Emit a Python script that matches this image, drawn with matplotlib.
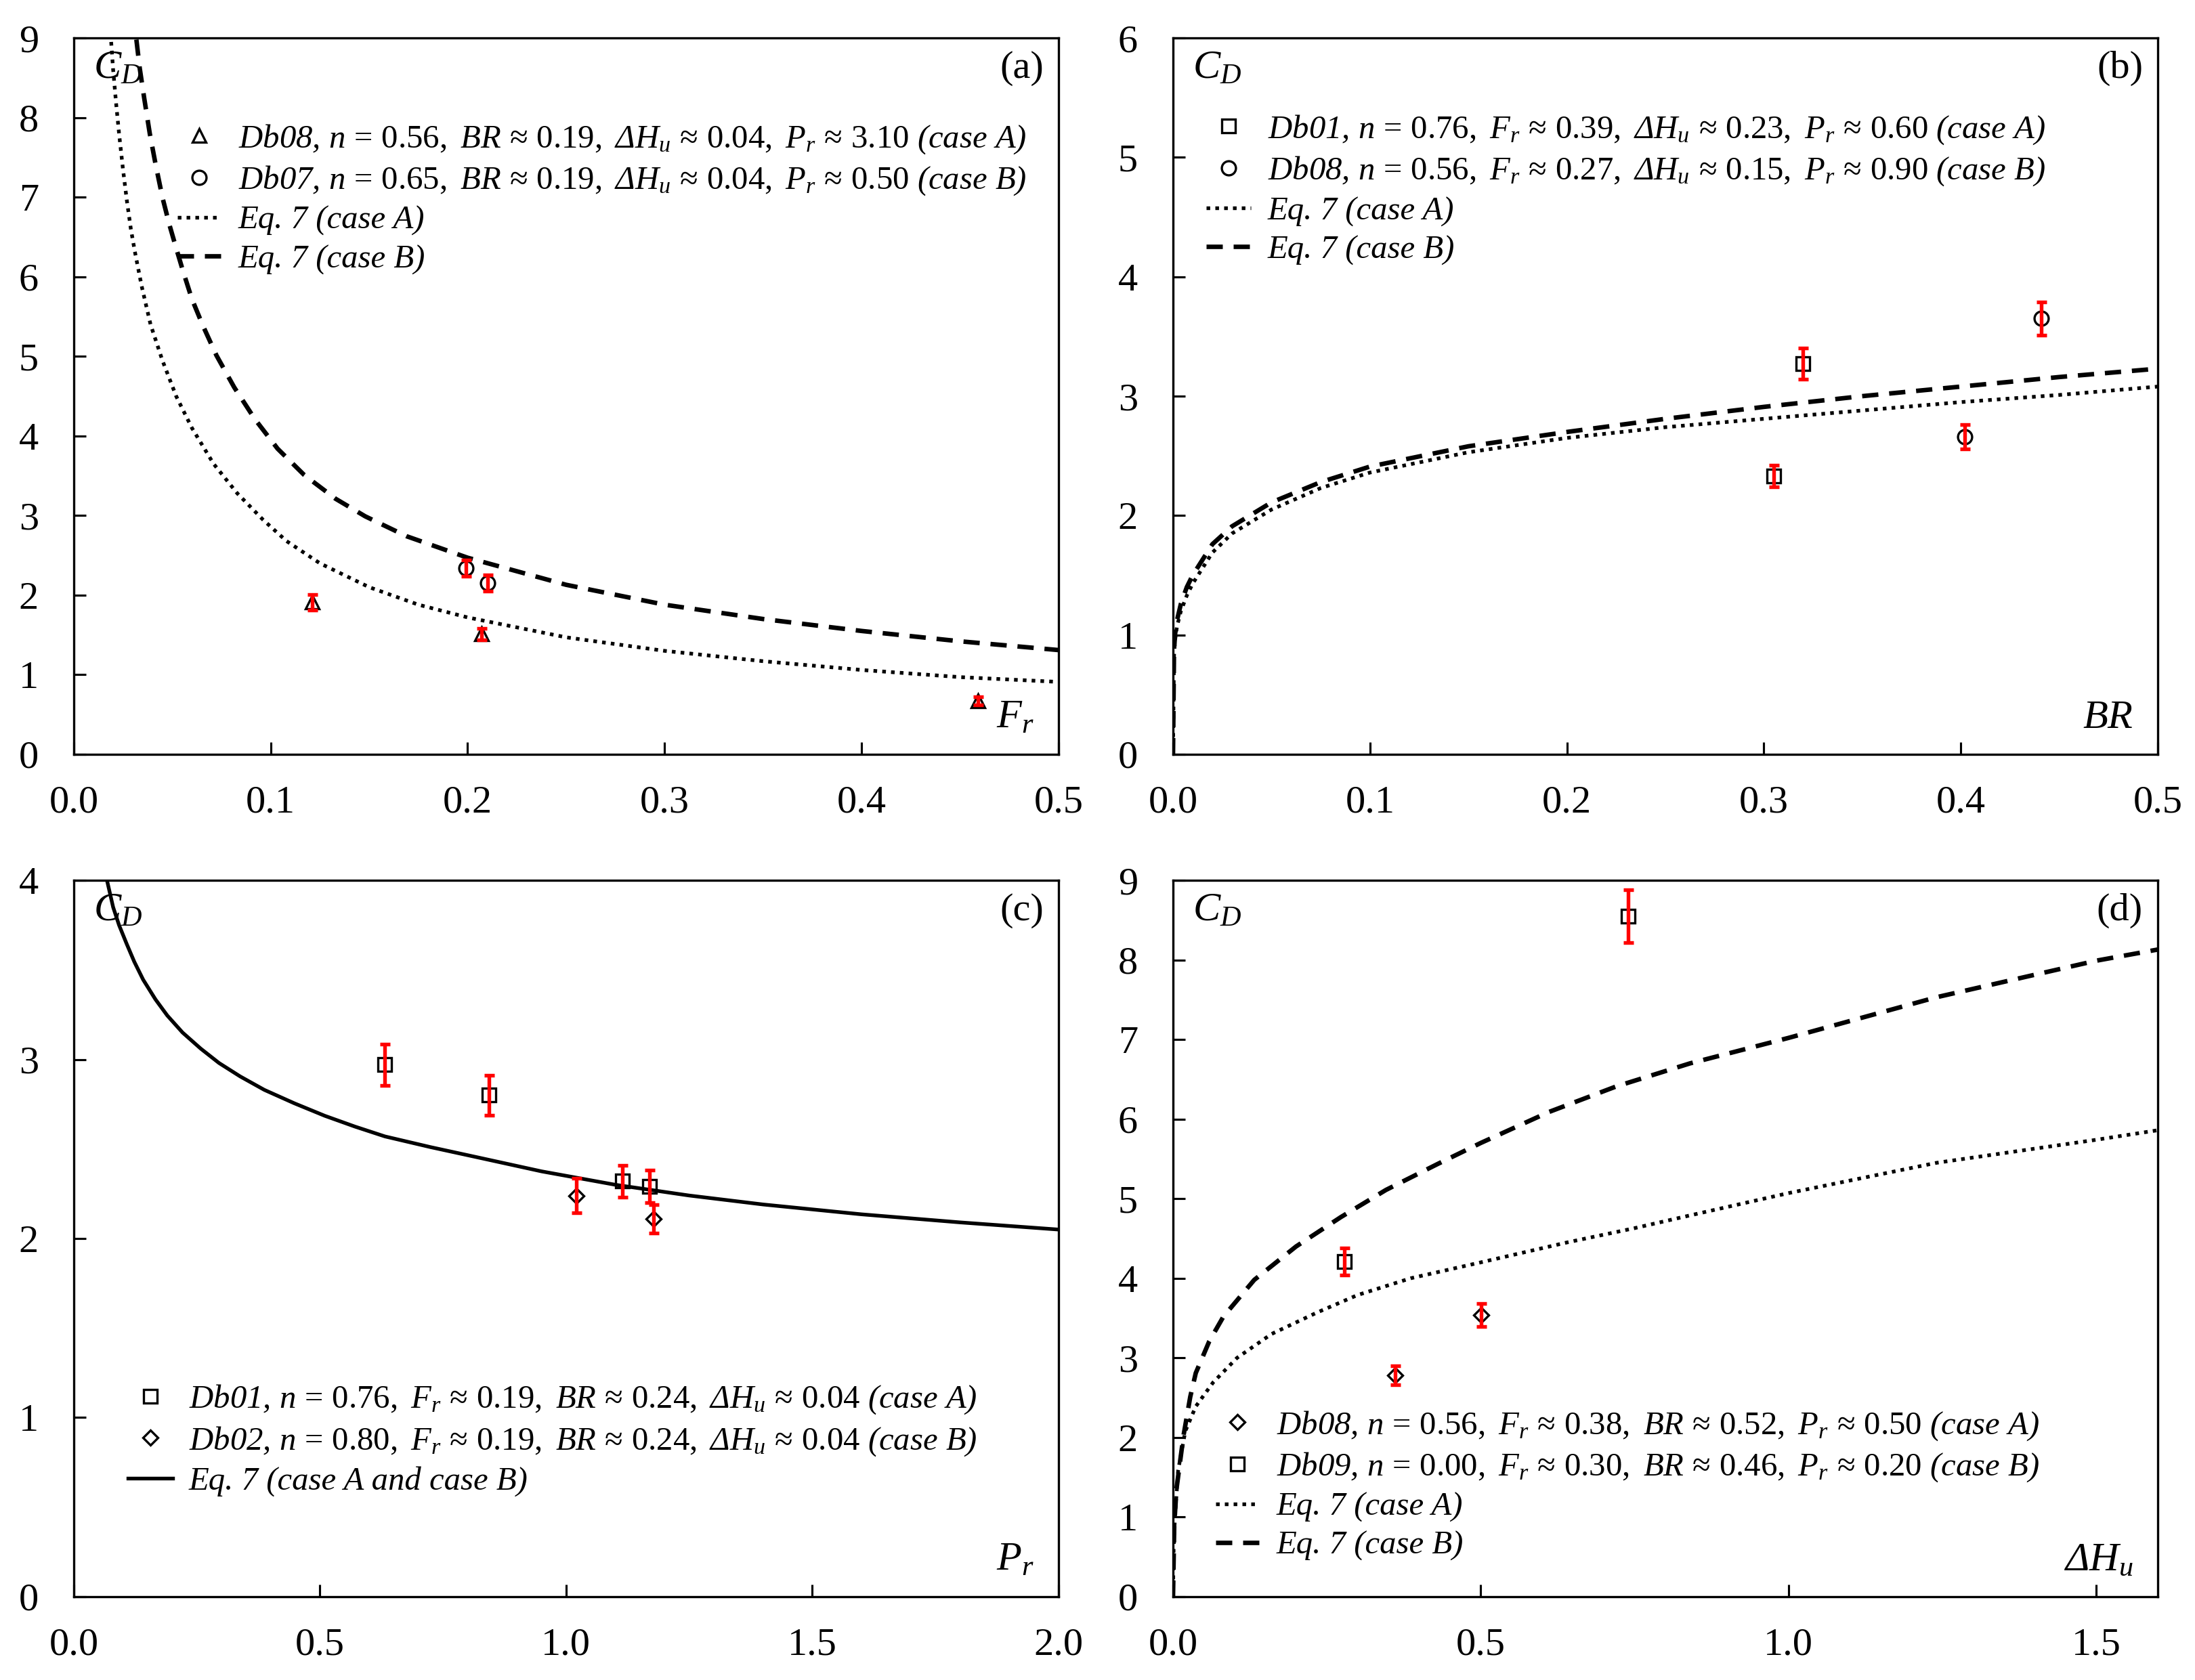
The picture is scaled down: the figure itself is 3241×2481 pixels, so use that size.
import matplotlib
matplotlib.use('Agg')
import matplotlib.pyplot as plt

plt.rcParams['font.family'] = ['Liberation Serif', 'DejaVu Serif']
plt.rcParams['mathtext.fontset'] = 'custom'
plt.rcParams['mathtext.rm'] = 'Liberation Serif'
plt.rcParams['mathtext.it'] = 'Liberation Serif:italic'
plt.rcParams['mathtext.bf'] = 'Liberation Serif:bold'

# ---- panel (a): C_D vs F_r ----
a_tri_x = [0.121, 0.207, 0.459]
a_tri_y = [1.91, 1.51, 0.67]
a_tri_err = [0.10, 0.07, 0.05]
a_circ_x = [0.199, 0.210]
a_circ_y = [2.34, 2.15]
a_circ_err = [0.10, 0.10]
a_eqA_x = [0.019, 0.020, 0.0215, 0.023, 0.025, 0.027, 0.029, 0.031, 0.0345, 0.039,
           0.045, 0.052, 0.06, 0.071, 0.083, 0.096, 0.108, 0.125, 0.15, 0.175,
           0.2, 0.25, 0.3, 0.35, 0.4, 0.45, 0.5]
a_eqA_y = [8.95, 8.6, 8.18, 7.8, 7.35, 6.95, 6.6, 6.32, 5.88, 5.4,
           4.95, 4.5, 4.1, 3.65, 3.28, 2.95, 2.68, 2.4, 2.1, 1.88,
           1.72, 1.47, 1.30, 1.17, 1.06, 0.97, 0.91]
a_eqB_x = [0.0318, 0.0335, 0.0358, 0.0386, 0.0415, 0.045, 0.0485, 0.052, 0.0555,
           0.06, 0.0655, 0.0725, 0.0815, 0.092, 0.1035, 0.117, 0.133, 0.148, 0.169,
           0.2, 0.25, 0.3, 0.35, 0.4, 0.45, 0.5]
a_eqB_y = [8.98, 8.62, 8.24, 7.8, 7.42, 7.0, 6.66, 6.36, 6.07,
           5.72, 5.39, 5.01, 4.61, 4.21, 3.84, 3.51, 3.21, 2.99, 2.74,
           2.47, 2.13, 1.88, 1.70, 1.55, 1.42, 1.31]

# ---- panel (b): C_D vs BR ----
b_sq_x = [0.305, 0.320]
b_sq_y = [2.33, 3.27]
b_sq_err = [0.09, 0.13]
b_circ_x = [0.402, 0.441]
b_circ_y = [2.66, 3.65]
b_circ_err = [0.10, 0.14]
b_eqA_x = [0.0, 0.0005, 0.001, 0.002, 0.004, 0.007, 0.01, 0.02, 0.03, 0.05, 0.075,
           0.1, 0.15, 0.2, 0.25, 0.3, 0.35, 0.4, 0.45, 0.5]
b_eqA_y = [0.0, 0.82, 0.95, 1.07, 1.2, 1.33, 1.43, 1.69, 1.85, 2.05, 2.23,
           2.36, 2.53, 2.65, 2.74, 2.81, 2.88, 2.95, 3.01, 3.08]
b_eqB_x = [0.0, 0.0005, 0.001, 0.002, 0.004, 0.007, 0.01, 0.02, 0.03, 0.05, 0.075,
           0.1, 0.15, 0.2, 0.25, 0.3, 0.35, 0.4, 0.45, 0.5]
b_eqB_y = [0.0, 0.86, 1.0, 1.12, 1.26, 1.4, 1.5, 1.76, 1.91, 2.11, 2.28,
           2.41, 2.58, 2.7, 2.81, 2.91, 3.0, 3.08, 3.16, 3.23]

# ---- panel (c): C_D vs P_r ----
c_sq_x = [0.631, 0.843, 1.114, 1.170]
c_sq_y = [2.97, 2.80, 2.32, 2.29]
c_sq_err = [0.115, 0.11, 0.09, 0.09]
c_dia_x = [1.021, 1.177]
c_dia_y = [2.24, 2.11]
c_dia_err = [0.095, 0.08]
c_eq_x = [0.0675, 0.08, 0.092, 0.1075, 0.123, 0.141, 0.166, 0.19, 0.221, 0.258,
          0.295, 0.338, 0.387, 0.448, 0.51, 0.571, 0.632, 0.725, 0.817, 0.95,
          1.1, 1.25, 1.4, 1.6, 1.8, 2.0]
c_eq_y = [4.0, 3.85, 3.75, 3.645, 3.545, 3.445, 3.335, 3.245, 3.15, 3.06,
          2.98, 2.905, 2.83, 2.755, 2.685, 2.625, 2.57, 2.51, 2.455, 2.375,
          2.30, 2.24, 2.19, 2.135, 2.09, 2.05]

# ---- panel (d): C_D vs dH_u ----
d_dia_x = [0.361, 0.501]
d_dia_y = [2.78, 3.54]
d_dia_err = [0.12, 0.145]
d_sq_x = [0.278, 0.739]
d_sq_y = [4.21, 8.55]
d_sq_err = [0.17, 0.33]
d_eqA_x = [0.0, 0.001, 0.003, 0.0084, 0.02, 0.037, 0.065, 0.104, 0.16, 0.234, 0.30,
           0.386, 0.5, 0.64, 0.75, 0.84, 1.0, 1.24, 1.5, 1.6]
d_eqA_y = [0.0, 0.6, 0.98, 1.59, 2.08, 2.39, 2.69, 3.0, 3.30, 3.57, 3.79,
           4.0, 4.2, 4.45, 4.63, 4.79, 5.07, 5.45, 5.74, 5.86]
d_eqB_x = [0.0, 0.002, 0.0056, 0.017, 0.028, 0.037, 0.059, 0.082, 0.132, 0.2, 0.273,
           0.346, 0.431, 0.5, 0.611, 0.72, 0.84, 1.0, 1.24, 1.5, 1.6]
d_eqB_y = [0.0, 0.9, 1.35, 2.02, 2.51, 2.81, 3.21, 3.52, 3.98, 4.40, 4.77,
           5.11, 5.44, 5.70, 6.09, 6.41, 6.70, 7.02, 7.53, 7.99, 8.13]

# axes ranges and ticks
xticks_ab = [0.0, 0.1, 0.2, 0.3, 0.4, 0.5]
xticks_c = [0.0, 0.5, 1.0, 1.5, 2.0]
xticks_d = [0.0, 0.5, 1.0, 1.5]

labels_a = [
    r"Db08, n$\,=\,0.56,$ BR$\,\approx\,0.19,$ Δ$H_u\,\approx\,0.04,$ $P_r\,\approx\,3.10$ (case A)",
    r"Db07, n$\,=\,0.65,$ BR$\,\approx\,0.19,$ Δ$H_u\,\approx\,0.04,$ $P_r\,\approx\,0.50$ (case B)",
    "Eq. 7 (case A)",
    "Eq. 7 (case B)",
]
labels_b = [
    r"Db01, n$\,=\,0.76,$ $F_r\,\approx\,0.39,$ Δ$H_u\,\approx\,0.23,$ $P_r\,\approx\,0.60$ (case A)",
    r"Db08, n$\,=\,0.56,$ $F_r\,\approx\,0.27,$ Δ$H_u\,\approx\,0.15,$ $P_r\,\approx\,0.90$ (case B)",
    "Eq. 7 (case A)",
    "Eq. 7 (case B)",
]
labels_c = [
    r"Db01, n$\,=\,0.76,$ $F_r\,\approx\,0.19,$ BR$\,\approx\,0.24,$ Δ$H_u\,\approx\,0.04$ (case A)",
    r"Db02, n$\,=\,0.80,$ $F_r\,\approx\,0.19,$ BR$\,\approx\,0.24,$ Δ$H_u\,\approx\,0.04$ (case B)",
    "Eq. 7 (case A and case B)",
]
labels_d = [
    r"Db08, n$\,=\,0.56,$ $F_r\,\approx\,0.38,$ BR$\,\approx\,0.52,$ $P_r\,\approx\,0.50$ (case A)",
    r"Db09, n$\,=\,0.00,$ $F_r\,\approx\,0.30,$ BR$\,\approx\,0.46,$ $P_r\,\approx\,0.20$ (case B)",
    "Eq. 7 (case A)",
    "Eq. 7 (case B)",
]

FS_TICK = 14
FS_LEG = 11.7
DOT = dict(color='black', lw=1.3, ls=(0, (1, 1.4)))
DASH = dict(color='black', lw=1.6, ls=(0, (3.6, 2.4)))


def points(ax, x, y, err, marker, ms, label):
    h, = ax.plot(x, y, ls='none', marker=marker, ms=ms, mfc='none', mec='black',
                 mew=0.8, label=label, zorder=3)
    ax.errorbar(x, y, yerr=err, fmt='none', ecolor='red', elinewidth=1.3,
                capsize=1.8, capthick=1.3, zorder=4)
    return h


def setup(ax, xlim, ylim, xticks, yticks, panel, varlabel):
    ax.set_xlim(*xlim)
    ax.set_ylim(*ylim)
    ax.set_xticks(xticks)
    ax.set_xticklabels(['%.1f' % v for v in xticks])
    ax.set_yticks(yticks)
    ax.set_yticklabels(['%d' % v for v in yticks])
    ax.tick_params(axis='both', direction='in', length=4.3, width=0.75,
                   labelsize=FS_TICK, top=False, right=False)
    ax.tick_params(axis='x', pad=11)
    ax.tick_params(axis='y', pad=12.5)
    for s in ax.spines.values():
        s.set_linewidth(0.8)
    ax.text(0.02, 0.982, r'$C_D$', transform=ax.transAxes, ha='left', va='top',
            fontsize=14.5)
    ax.text(0.985, 0.982, panel, transform=ax.transAxes, ha='right', va='top',
            fontsize=14)
    ax.text(0.975, 0.025, varlabel, transform=ax.transAxes, ha='right',
            va='bottom', fontsize=14.5, style='italic')


def legend(ax, handles, labels, loc, anchor):
    ax.legend(handles, labels, loc=loc, bbox_to_anchor=anchor, frameon=False,
              prop={'family': 'Liberation Serif', 'style': 'italic', 'size': FS_LEG},
              handlelength=1.35, handletextpad=0.5, labelspacing=0.26,
              borderpad=0, borderaxespad=0)


fig = plt.figure(figsize=(3241 / 300, 2481 / 300), dpi=300)
ax_a = fig.add_axes([0.0336, 0.551, 0.4486, 0.4264])
ax_b = fig.add_axes([0.5344, 0.551, 0.4486, 0.4264])
ax_c = fig.add_axes([0.0336, 0.0496, 0.4486, 0.4264])
ax_d = fig.add_axes([0.5344, 0.0496, 0.4486, 0.4264])

# (a)
h1 = points(ax_a, a_tri_x, a_tri_y, a_tri_err, '^', 5, labels_a[0])
h2 = points(ax_a, a_circ_x, a_circ_y, a_circ_err, 'o', 5, labels_a[1])
h3, = ax_a.plot(a_eqA_x, a_eqA_y, **DOT)
h4, = ax_a.plot(a_eqB_x, a_eqB_y, **DASH)
setup(ax_a, (0, 0.5), (0, 9), xticks_ab, range(0, 10), '(a)', r'$F_r$')
legend(ax_a, [h1, h2, h3, h4], labels_a, 'upper left', (0.105, 0.882))

# (b)
h1 = points(ax_b, b_sq_x, b_sq_y, b_sq_err, 's', 5, labels_b[0])
h2 = points(ax_b, b_circ_x, b_circ_y, b_circ_err, 'o', 5, labels_b[1])
h3, = ax_b.plot(b_eqA_x, b_eqA_y, **DOT)
h4, = ax_b.plot(b_eqB_x, b_eqB_y, **DASH)
setup(ax_b, (0, 0.5), (0, 6), xticks_ab, range(0, 7), '(b)', r'$BR$')
legend(ax_b, [h1, h2, h3, h4], labels_b, 'upper left', (0.034, 0.895))

# (c)
h1 = points(ax_c, c_sq_x, c_sq_y, c_sq_err, 's', 5, labels_c[0])
h2 = points(ax_c, c_dia_x, c_dia_y, c_dia_err, 'D', 3.8, labels_c[1])
h3, = ax_c.plot(c_eq_x, c_eq_y, color='black', lw=1.3)
setup(ax_c, (0, 2.0), (0, 4), xticks_c, range(0, 5), '(c)', r'$P_r$')
legend(ax_c, [h1, h2, h3], labels_c, 'upper left', (0.055, 0.298))

# (d)
h1 = points(ax_d, d_dia_x, d_dia_y, d_dia_err, 'D', 3.8, labels_d[0])
h2 = points(ax_d, d_sq_x, d_sq_y, d_sq_err, 's', 5, labels_d[1])
h3, = ax_d.plot(d_eqA_x, d_eqA_y, **DOT)
h4, = ax_d.plot(d_eqB_x, d_eqB_y, **DASH)
setup(ax_d, (0, 1.6), (0, 9), xticks_d, range(0, 10), '(d)', r'Δ$H_u$')
legend(ax_d, [h1, h2, h3, h4], labels_d, 'upper left', (0.043, 0.262))

fig.savefig('out.png', dpi=300)
